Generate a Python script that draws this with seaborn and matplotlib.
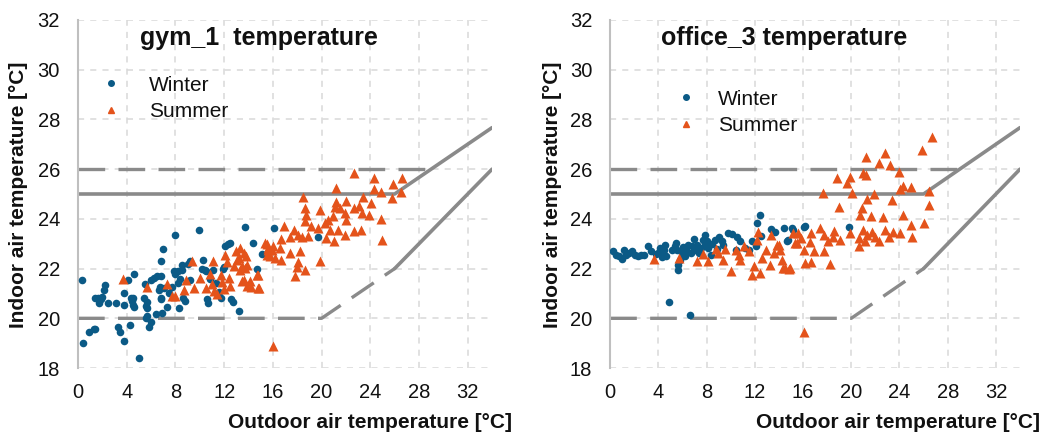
import numpy as np
import pandas as pd
import matplotlib
matplotlib.use('Agg')
import matplotlib.pyplot as plt
from matplotlib.lines import Line2D
import seaborn as sns

sns.set_style('white')
plt.rcParams['font.family'] = ['Liberation Sans', 'DejaVu Sans']
plt.rcParams['text.color'] = '#111111'

# gym_1 winter (outdoor, indoor)
gym_winter_out = [0.33, 0.4, 0.9, 1.3, 1.36, 1.36, 1.6, 1.7, 1.9, 2.0, 2.1, 2.2, 2.5, 3.1, 3.3, 3.45, 3.8, 3.8,
                  3.8, 4.1, 4.3, 4.35, 4.4, 4.5, 4.5, 4.6, 4.62, 4.97, 5.4, 5.5, 5.6, 5.65, 5.7, 5.7, 5.6, 5.8,
                  5.97, 6.0, 6.2, 6.4, 6.5, 6.66, 6.7, 6.8, 6.85, 6.9, 6.8, 7.0, 6.8, 7.1, 7.3, 7.5, 7.7, 7.9,
                  8.0, 8.2, 8.0, 8.2, 8.3, 8.4, 8.5, 8.56, 8.64, 8.75, 9.0, 9.16, 9.2, 9.9, 10.2, 10.3, 10.4,
                  10.5, 10.6, 10.7, 10.8, 11.1, 11.3, 11.6, 11.7, 11.9, 12.0, 12.1, 12.3, 12.5, 12.6, 12.7,
                  13.2, 13.7, 14.4, 14.7, 15.1, 16.1, 19.7]
gym_winter_in = [21.55, 18.99, 19.43, 19.56, 19.58, 20.83, 20.8, 20.63, 20.76, 20.85, 21.13, 21.35, 20.63, 20.6,
                 19.67, 19.43, 19.07, 20.52, 21.0, 21.56, 19.75, 20.83, 20.7, 20.8, 20.55, 20.45, 21.8, 18.39,
                 20.8, 21.4, 20.5, 20.4, 20.65, 20.1, 20.0, 19.65, 19.84, 21.56, 21.63, 20.16, 21.7, 21.13,
                 21.27, 20.8, 20.76, 20.2, 21.7, 22.8, 22.3, 21.2, 20.47, 21.0, 21.27, 21.9, 21.8, 21.9, 23.36,
                 21.43, 20.4, 21.6, 22.16, 21.96, 20.83, 20.7, 22.2, 22.3, 21.53, 23.56, 22.0, 22.36, 21.96,
                 21.9, 20.76, 20.63, 21.6, 21.96, 21.43, 21.07, 20.8, 22.0, 22.05, 22.9, 23.0, 23.03, 20.76,
                 20.67, 20.28, 23.67, 23.03, 22.0, 22.6, 23.65, 23.27]

# gym_1 summer
gym_summer_out = [3.7, 5.7, 7.3, 7.7, 8.0, 8.9, 8.7, 9.4, 9.5, 10.0, 10.5, 10.8, 11.0, 11.1, 11.2, 11.4, 11.7,
                  11.8, 11.95, 12.1, 12.2, 12.4, 12.5, 12.8, 13.0, 13.2, 13.3, 13.45, 13.5, 13.7, 13.8, 13.9,
                  14.1, 14.2, 14.7, 14.87, 15.35, 15.5, 15.6, 15.9, 16.2, 16.0,
                  22.7, 24.3, 26.6, 25.9, 26.5, 24.3, 24.9, 21.2, 25.76, 18.45, 23.4, 24.07, 22.0, 21.2, 21.1,
                  18.6, 19.86, 18.7, 21.5, 21.9, 22.7, 23.1, 23.3, 23.9, 24.9, 22.0, 20.95, 20.5, 20.27, 19.7,
                  19.1, 18.6, 16.9, 17.74, 18.1, 17.4, 18.9, 18.36, 20.7, 21.35, 21.9, 22.7, 23.26, 21.0, 20.4,
                  25.0, 16.7, 15.5, 16.05, 16.6, 15.6, 15.8, 16.7, 17.4, 18.1, 18.2, 17.96, 18.6, 17.8, 19.86,
                  14.8, 13.6, 13.9, 14.8, 13.3, 13.07, 13.6]
gym_summer_in = [21.6, 21.25, 21.36, 20.9, 20.9, 21.56, 21.13, 22.3, 21.2, 21.63, 21.2, 21.8, 21.36, 22.3, 21.1,
                 20.96, 21.76, 21.47, 21.19, 22.56, 22.27, 21.63, 21.3, 22.1, 22.7, 22.43, 22.83, 22.1, 21.5,
                 22.03, 22.5, 22.16, 21.5, 21.27, 21.76, 21.23, 23.03, 22.56, 22.83, 22.76, 22.43, 18.9,
                 25.83, 25.63, 25.63, 25.4, 25.1, 25.19, 25.1, 25.23, 24.83, 24.87, 24.87, 24.63, 24.73, 24.67,
                 24.47, 24.43, 24.36, 24.16, 24.43, 24.23, 24.43, 24.5, 24.23, 24.16, 24.0, 23.96, 24.1, 23.96,
                 23.83, 23.63, 23.7, 23.9, 23.7, 23.56, 23.36, 23.27, 23.33, 23.27, 23.56, 23.56, 23.36, 23.5,
                 23.56, 23.1, 23.25, 23.16, 23.19, 23.0, 22.9, 22.83, 22.76, 22.5, 22.36, 22.63, 22.25, 22.7,
                 22.07, 21.96, 21.7, 22.3, 21.76, 21.56, 21.3, 21.23, 21.96, 22.36, 22.63]

# office_3 winter
office_winter_out = [0.25, 0.47, 0.74, 1.0, 1.16, 1.35, 1.57, 1.85, 2.07, 2.35, 2.54, 2.8, 3.17, 3.37, 3.78,
                     4.05, 4.1, 4.28, 4.47, 4.55, 4.66, 4.88, 5.16, 5.38, 5.5, 5.57, 5.65, 5.65, 5.77, 5.93,
                     6.04, 6.2, 6.26, 6.43, 6.6, 6.68, 6.8, 6.95, 7.0, 7.2, 7.37, 7.5, 7.7, 7.86, 7.9, 8.06,
                     8.14, 8.33, 8.47, 8.69, 8.88, 9.0, 9.3, 9.4, 9.8, 10.07, 10.4, 10.5, 10.8, 11.2, 11.5,
                     11.78, 12.06, 12.2, 12.47, 12.55, 13.38, 13.7, 14.4, 14.76, 15.2, 16.1, 15.1, 16.2, 14.7,
                     19.8]
office_winter_in = [22.69, 22.56, 22.5, 22.39, 22.76, 22.56, 22.63, 22.69, 22.56, 22.52, 22.55, 22.56, 22.92,
                    22.69, 22.6, 22.65, 22.83, 22.47, 22.76, 22.96, 22.49, 20.65, 22.76, 22.89, 23.03, 22.76,
                    22.16, 21.93, 22.36, 22.63, 22.87, 22.49, 22.76, 22.96, 20.12, 22.63, 22.89, 23.19, 22.76,
                    22.96, 22.63, 22.83, 23.16, 23.36, 22.96, 23.09, 22.83, 22.56, 23.0, 23.13, 22.79, 23.27,
                    23.09, 22.96, 23.43, 23.4, 22.76, 23.27, 23.09, 22.83, 22.76, 23.09, 22.92, 23.85, 24.16,
                    23.32, 23.59, 23.49, 23.63, 23.13, 23.56, 23.69, 23.63, 23.72, 23.09, 23.67]

# office_3 summer
office_summer_out = [3.64, 5.7, 7.23, 7.7, 8.14, 8.75, 8.94, 9.38, 9.5, 10.0, 10.4, 10.68, 10.8, 11.1, 11.5,
                     11.78, 11.9, 12.2, 12.27, 12.47, 12.6, 12.9, 13.3, 13.38, 13.57, 13.85, 14.1, 14.26, 14.5,
                     14.95, 15.15, 15.5, 15.8,
                     26.68, 25.85, 21.2, 22.76, 22.26, 23.2, 23.97, 18.8, 19.9, 21.0, 19.64, 21.2, 24.25, 24.97,
                     24.05, 17.66, 20.1, 21.9, 26.48, 21.3, 23.36, 18.95, 26.48, 20.9, 21.66, 22.6, 24.25, 20.7,
                     24.97, 26.0, 17.4, 18.6, 17.7, 18.5, 18.1, 19.1, 19.9, 20.6, 21.0, 21.3, 21.7, 21.99, 21.16,
                     22.26, 22.76, 23.1, 23.5, 24.05, 25.0, 20.6, 16.7, 16.6, 15.6, 15.36, 14.0, 16.06, 16.9,
                     17.7, 16.2, 16.7, 14.8, 14.3, 18.2, 16.06]
office_summer_in = [22.39, 22.43, 22.29, 22.6, 22.29, 22.79, 22.63, 22.33, 22.79, 21.89, 22.76, 22.56, 22.36,
                    22.89, 22.69, 21.76, 22.09, 23.16, 23.49, 21.83, 22.43, 22.76, 22.16, 23.36, 22.63, 22.96,
                    22.76, 22.36, 22.03, 22.03, 23.43, 23.03, 23.23,
                    27.29, 26.76, 26.49, 26.63, 26.25, 26.16, 25.89, 25.65, 25.69, 25.83, 25.43, 25.76, 25.32,
                    25.27, 25.19, 25.05, 25.03, 24.99, 25.13, 24.79, 24.76, 24.47, 24.56, 24.43, 24.12, 24.07,
                    24.16, 24.16, 23.76, 23.83, 23.65, 23.53, 23.36, 23.29, 23.09, 23.16, 23.43, 23.23, 23.56,
                    23.36, 23.49, 23.29, 23.09, 23.09, 23.56, 23.29, 23.49, 23.43, 23.29, 22.89, 23.43, 23.05,
                    23.43, 23.03, 22.96, 22.76, 22.69, 22.69, 22.23, 22.25, 21.99, 22.03, 22.19, 19.43]

# comfort band lines
upper_solid_x = [0, 26, 34]
upper_solid_y = [25, 25, 27.67]
upper_dash_x = [0, 29]
upper_dash_y = [26, 26]
lower_dash_x = [0, 20, 26]
lower_dash_y = [20, 20, 22]
lower_solid_x = [26, 34]
lower_solid_y = [22, 26]

blue = '#0b5a86'
orange = '#e4531b'
line_gray = '#8a8a8a'

panels = [
    ('gym_1  temperature', gym_winter_out, gym_winter_in, gym_summer_out, gym_summer_in),
    ('office_3 temperature', office_winter_out, office_winter_in, office_summer_out, office_summer_in),
]

fig = plt.figure(figsize=(10.43, 4.34), dpi=100)
ax_pos = [[0.0748, 0.152, 0.397, 0.802], [0.585, 0.152, 0.393, 0.802]]
title_x = [0.150, 0.125]
leg_pos = [(0.03, 0.87), (0.133, 0.83)]
leg_pad = [1.3, 1.05]
ylab_x = [0.018, 0.530]
xlab_right = [0.491, 0.997]

for i, (title, wx, wy, sx, sy) in enumerate(panels):
    ax = fig.add_axes(ax_pos[i])
    winter = pd.DataFrame({'out': wx, 'in': wy})
    summer = pd.DataFrame({'out': sx, 'in': sy})

    ax.set_xlim(0, 34)
    ax.set_ylim(18, 32)
    ax.set_xticks(range(0, 33, 4))
    ax.set_yticks(range(18, 33, 2))
    ax.grid(True, color='#d9d9d9', linestyle=(0, (4, 4)), linewidth=1.1)
    ax.set_axisbelow(True)
    for s in ['top', 'right', 'bottom']:
        ax.spines[s].set_visible(False)
    ax.spines['left'].set_color('#bfbfbf')
    ax.spines['left'].set_linewidth(1.5)
    ax.tick_params(length=0, labelsize=14.5, colors='#111111')
    ax.tick_params(axis='y', pad=13)
    ax.tick_params(axis='x', pad=11)

    ax.plot(upper_dash_x, upper_dash_y, color=line_gray, lw=2.4, ls=(0, (8, 4)), zorder=2)
    ax.plot(lower_dash_x, lower_dash_y, color=line_gray, lw=2.4, ls=(0, (8, 4)), zorder=2)
    ax.plot(upper_solid_x, upper_solid_y, color=line_gray, lw=2.6, zorder=2)
    ax.plot(lower_solid_x, lower_solid_y, color=line_gray, lw=2.6, zorder=2)

    sns.scatterplot(data=winter, x='out', y='in', ax=ax, color=blue, marker='o', s=30,
                    linewidth=0, zorder=3)
    sns.scatterplot(data=summer, x='out', y='in', ax=ax, color=orange, marker='^', s=52,
                    linewidth=0, zorder=4)

    ax.set_xlabel('')
    ax.set_ylabel('')
    ax.text(title_x[i], 0.928, title, transform=ax.transAxes, fontsize=18, fontweight='bold',
            va='baseline', ha='left')

    handles = [Line2D([], [], marker='o', color=blue, ls='', markersize=4),
               Line2D([], [], marker='^', color=orange, ls='', markersize=5)]
    ax.legend(handles, ['Winter', 'Summer'], loc='upper left', bbox_to_anchor=leg_pos[i], frameon=False,
              fontsize=15, handlelength=1, handletextpad=leg_pad[i], labelspacing=0.35, borderpad=0)

    fig.text(ylab_x[i], 0.55, 'Indoor air temperature [°C]', rotation=90, fontsize=15,
             fontweight='bold', ha='center', va='center')
    fig.text(xlab_right[i], 0.004, 'Outdoor air temperature [°C]', fontsize=15,
             fontweight='bold', ha='right', va='bottom')

fig.savefig('out.png', dpi=100)
